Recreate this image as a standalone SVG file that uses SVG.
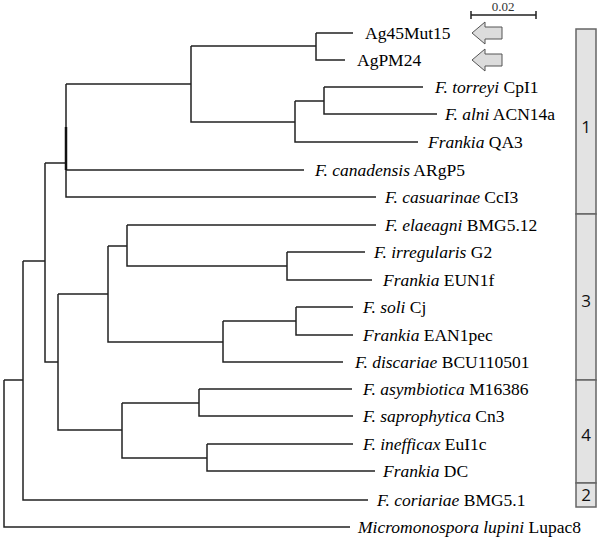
<svg xmlns="http://www.w3.org/2000/svg" width="600" height="543" viewBox="0 0 600 543">
<style>
.br{fill:none;stroke:#222;stroke-width:1.5}
.lab{font-family:"Liberation Serif","Times New Roman",serif;font-size:17.5px;fill:#000}
.it{font-style:italic}
.arr{fill:#dcdcdc;stroke:#555;stroke-width:1}
.bar{fill:#e3e3e3;stroke:#666;stroke-width:1.5}
.num{font-family:"Open Sans","Liberation Sans",sans-serif;font-size:17px;fill:#111;text-anchor:middle}
</style>
<rect width="600" height="543" fill="#fff"/>
<g id="connectors">
<path class="br" d="M4,380 V527 H350 M4,380 H23"/>
<path class="br" d="M23,261 V500 H368 M23,261 H45"/>
<path class="br" d="M45,163 V362 H58 M45,163 H66"/>
<path class="br" d="M66,84 V197 H376 M66,170 H304 M66,84 H191"/>
<line x1="66" y1="127" x2="66" y2="170" stroke="#111" stroke-width="2.5"/>
<path class="br" d="M191,46 V122 H295 M191,46 H316"/>
<path class="br" d="M316,33 V60 H345 M316,33 H353"/>
<path class="br" d="M295,101 V142 H418 M295,101 H324"/>
<path class="br" d="M324,87 V114 H437 M324,87 H423"/>
<path class="br" d="M58,294 V430 H122 M58,294 H108"/>
<path class="br" d="M108,246 V342 H223 M108,246 H127"/>
<path class="br" d="M127,225 V266 H287 M127,225 H376"/>
<path class="br" d="M287,252 V280 H372 M287,252 H365"/>
<path class="br" d="M223,321 V362 H343 M223,321 H296"/>
<path class="br" d="M296,307 V335 H353 M296,307 H353"/>
<path class="br" d="M122,403 V458 H207 M122,403 H199"/>
<path class="br" d="M199,389 V416 H353 M199,389 H352"/>
<path class="br" d="M207,444 V471 H375 M207,444 H353"/>
</g>
<g id="scalebar">
<path class="br" d="M471,15 H536 M471,11 V19 M536,11 V19" stroke-width="1.2"/>
<text x="503" y="11" font-family="Liberation Serif,serif" font-size="13" fill="#333" text-anchor="middle">0.02</text>
</g>
<g id="leaf-Ag45Mut15"><text class="lab" x="365" y="39">Ag45Mut15</text></g>
<g id="leaf-AgPM24"><text class="lab" x="357" y="66">AgPM24</text></g>
<g id="leaf-torreyi"><text class="lab" x="435" y="93"><tspan class="it">F. torreyi</tspan> CpI1</text></g>
<g id="leaf-alni"><text class="lab" x="445" y="120"><tspan class="it">F. alni</tspan> ACN14a</text></g>
<g id="leaf-QA3"><text class="lab" x="428" y="148"><tspan class="it">Frankia</tspan> QA3</text></g>
<g id="leaf-canadensis"><text class="lab" x="315" y="176"><tspan class="it">F. canadensis</tspan> ARgP5</text></g>
<g id="leaf-casuarinae"><text class="lab" x="385" y="203"><tspan class="it">F. casuarinae</tspan> CcI3</text></g>
<g id="leaf-elaeagni"><text class="lab" x="385" y="231"><tspan class="it">F. elaeagni</tspan> BMG5.12</text></g>
<g id="leaf-irregularis"><text class="lab" x="374" y="258"><tspan class="it">F. irregularis</tspan> G2</text></g>
<g id="leaf-EUN1f"><text class="lab" x="383" y="286"><tspan class="it">Frankia</tspan> EUN1f</text></g>
<g id="leaf-soli"><text class="lab" x="363" y="313"><tspan class="it">F. soli</tspan> Cj</text></g>
<g id="leaf-EAN1pec"><text class="lab" x="363" y="341"><tspan class="it">Frankia</tspan> EAN1pec</text></g>
<g id="leaf-discariae"><text class="lab" x="355" y="368"><tspan class="it">F. discariae</tspan> BCU110501</text></g>
<g id="leaf-asymbiotica"><text class="lab" x="363" y="395"><tspan class="it">F. asymbiotica</tspan> M16386</text></g>
<g id="leaf-saprophytica"><text class="lab" x="363" y="422"><tspan class="it">F. saprophytica</tspan> Cn3</text></g>
<g id="leaf-inefficax"><text class="lab" x="363" y="450"><tspan class="it">F. inefficax</tspan> EuI1c</text></g>
<g id="leaf-DC"><text class="lab" x="383" y="477"><tspan class="it">Frankia</tspan> DC</text></g>
<g id="leaf-coriariae"><text class="lab" x="377" y="506"><tspan class="it">F. coriariae</tspan> BMG5.1</text></g>
<g id="leaf-Micromonospora"><text class="lab" x="358" y="533"><tspan class="it">Micromonospora lupini</tspan> Lupac8</text></g>
<g id="arrow-1"><path class="arr" d="M472,33 L485,22 V27 H502 V39 H485 V44 Z"/></g>
<g id="arrow-2"><path class="arr" d="M472,60 L485,49 V54 H502 V66 H485 V71 Z"/></g>
<g id="group-1"><rect class="bar" x="576" y="29" width="20" height="185"/><text class="num" x="586" y="133">1</text></g>
<g id="group-3"><rect class="bar" x="576" y="214" width="20" height="166"/><text class="num" x="586" y="307">3</text></g>
<g id="group-4"><rect class="bar" x="576" y="380" width="20" height="103"/><text class="num" x="586" y="441">4</text></g>
<g id="group-2"><rect class="bar" x="576" y="483" width="20" height="24"/><text class="num" x="586" y="501">2</text></g>
</svg>
